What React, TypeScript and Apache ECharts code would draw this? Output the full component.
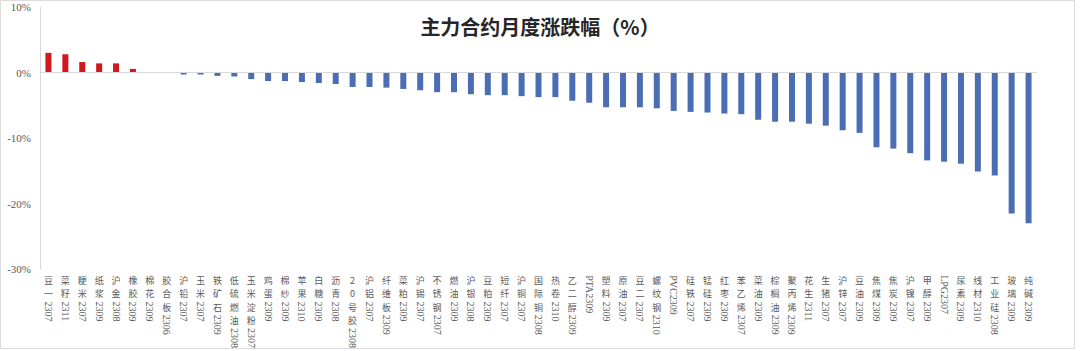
import React, { useEffect, useRef } from "react";
import * as echarts from "echarts";

const titleText = "主力合约月度涨跌幅（%）";

const categories = [
  "豆一2307", "菜籽2311", "粳米2307", "纸浆2309", "沪金2308", "橡胶2309", "棉花2309", "胶合板2306",
  "沪铅2307", "玉米2307", "铁矿石2309", "低硫燃油2308", "玉米淀粉2307", "鸡蛋2309", "棉纱2309",
  "苹果2310", "白糖2309", "沥青2308", "20号胶2308", "沪铝2307", "纤维板2309", "菜粕2309", "沪锡2307",
  "不锈钢2307", "燃油2309", "沪银2308", "豆粕2309", "短纤2307", "沪铜2307", "国际铜2308", "热卷2310",
  "乙二醇2309", "PTA2309", "塑料2309", "原油2307", "豆二2307", "螺纹钢2310", "PVC2309", "硅铁2307",
  "锰硅2309", "红枣2309", "苯乙烯2307", "菜油2309", "棕榈油2309", "聚丙烯2309", "花生2311", "生猪2307",
  "沪锌2307", "豆油2309", "焦煤2309", "焦炭2309", "沪镍2307", "甲醇2309", "LPG2307", "尿素2309",
  "线材2310", "工业硅2308", "玻璃2309", "纯碱2309",
];

const changes = [
  3.0, 2.8, 1.6, 1.4, 1.4, 0.55, 0, 0,
  -0.3, -0.3, -0.5, -0.6, -1.0, -1.3, -1.3,
  -1.45, -1.6, -1.75, -2.2, -2.2, -2.3, -2.5, -2.7,
  -3.0, -3.0, -3.3, -3.45, -3.45, -3.6, -3.75, -3.75,
  -4.3, -4.6, -5.3, -5.3, -5.3, -5.45, -5.85, -6.0,
  -6.1, -6.25, -6.35, -7.2, -7.5, -7.5, -7.8, -8.1,
  -8.8, -9.2, -11.4, -11.6, -12.3, -13.4, -13.6, -13.9,
  -15.1, -15.7, -21.5, -23.0,
];

const yTicks = { min: -30, max: 10, interval: 10 };

const RED = "#d0191d";
const BLUE = "#4a6db3";
const LABEL_COLOR = "#595959";
const CJK_SIZE = 9;
const CJK_LINE = 13.2;

function splitName(name: string): { prefix: string; suffix: string } {
  const m = name.match(/[A-Za-z0-9]+$/);
  const suffix = m ? m[0] : "";
  return { prefix: name.slice(0, name.length - suffix.length), suffix };
}

function stackedPrefix(name: string): string {
  const { prefix } = splitName(name);
  if (!prefix) return "";
  return Array.from(prefix).map((ch) => `{c|${ch}}`).join("\n");
}

function rotatedSuffix(name: string): string {
  const { prefix, suffix } = splitName(name);
  const n = Array.from(prefix).length;
  if (n === 0) return `{n|${suffix}}`;
  return `{p${n}| }{n|${suffix}}`;
}

export default function App() {
  const ref = useRef<HTMLDivElement>(null);
  useEffect(() => {
    document.body.style.margin = "0";
    const chart = echarts.init(ref.current!, undefined, { renderer: "svg" });
    const padStyles: Record<string, any> = {};
    for (let i = 1; i <= 6; i++) {
      padStyles["p" + i] = { width: i * CJK_LINE, fontSize: 9 };
    }
    chart.setOption({
      animation: false,
      backgroundColor: "#ffffff",
      title: {
        text: titleText,
        left: "center",
        top: 11,
        textStyle: {
          fontFamily: "Noto Sans CJK SC",
          fontSize: 20,
          fontWeight: "bold",
          color: "#262626",
        },
      },
      graphic: [
        {
          type: "rect",
          shape: { x: 0.5, y: 0.5, width: 1074, height: 348 },
          style: { fill: "none", stroke: "#dcdcdc", lineWidth: 1 },
          silent: true,
        },
      ],
      grid: { left: 40, right: 43, top: 7, bottom: 81, containLabel: false },
      xAxis: [
        {
          type: "category",
          data: categories,
          axisLine: { show: false, onZero: false },
          axisTick: { show: false },
          position: "bottom",
          axisLabel: {
            interval: 0,
            margin: 5,
            verticalAlign: "top",
            formatter: (v: string) => stackedPrefix(v),
            rich: {
              c: {
                fontFamily: "Noto Sans CJK SC",
                fontSize: CJK_SIZE,
                lineHeight: CJK_LINE,
                color: LABEL_COLOR,
              },
            },
          },
        },
        {
          type: "category",
          data: categories,
          gridIndex: 0,
          position: "bottom",
          offset: 0,
          axisLine: { show: false, onZero: false },
          axisTick: { show: false },
          axisLabel: {
            interval: 0,
            margin: 6,
            rotate: -90,
            formatter: (v: string) => rotatedSuffix(v),
            rich: {
              ...padStyles,
              n: {
                fontFamily: "Liberation Serif",
                fontSize: 10,
                color: LABEL_COLOR,
              },
            },
          },
        },
      ],
      yAxis: {
        type: "value",
        min: yTicks.min,
        max: yTicks.max,
        interval: yTicks.interval,
        axisLine: { show: true, lineStyle: { color: "#d9d9d9", width: 1 } },
        axisTick: { show: false },
        splitLine: { show: false },
        axisLabel: {
          formatter: "{value}%",
          fontFamily: "Liberation Serif",
          fontSize: 11,
          color: LABEL_COLOR,
          margin: 9,
        },
      },
      series: [
        {
          type: "bar",
          xAxisIndex: 0,
          data: changes.map((v) => ({
            value: v,
            itemStyle: { color: v >= 0 ? RED : BLUE },
          })),
          barWidth: 6,
          markLine: {
            silent: true,
            symbol: "none",
            label: { show: false },
            lineStyle: { color: "#d9d9d9", type: "solid", width: 1 },
            data: [{ yAxis: 0 }],
          },
        },
      ],
    });
    return () => chart.dispose();
  }, []);
  return <div ref={ref} style={{ width: 1080, height: 351 }} />;
}
